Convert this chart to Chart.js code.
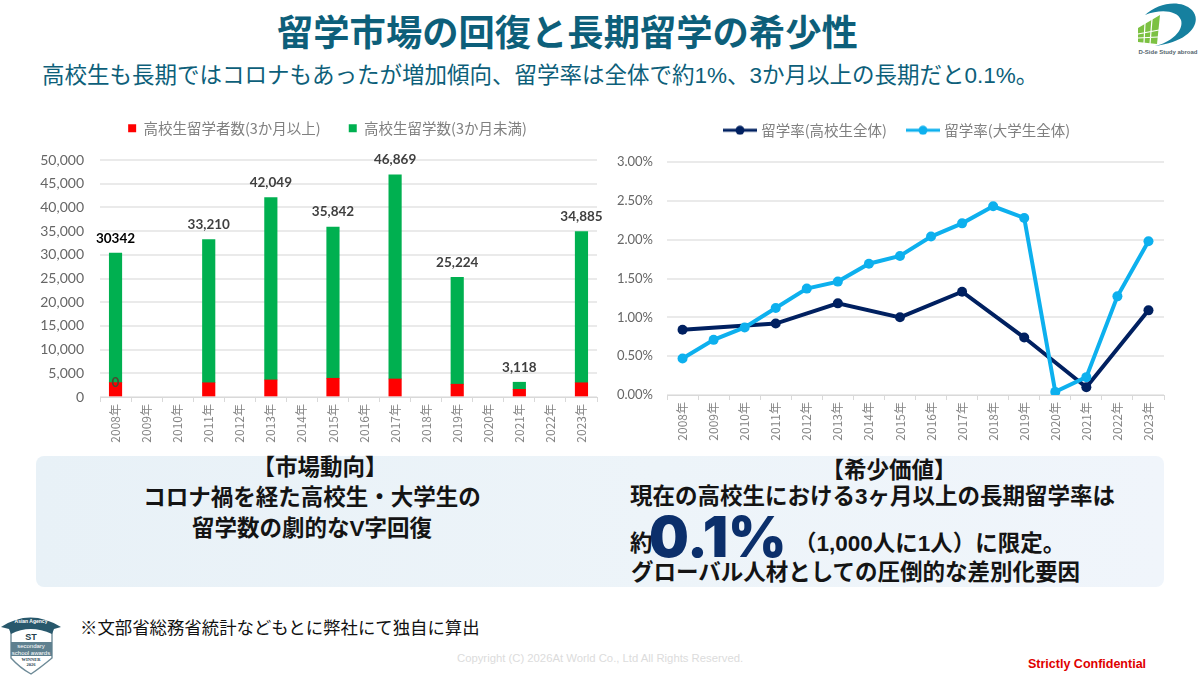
<!DOCTYPE html>
<html lang="ja">

<head>
    <meta charset="UTF-8">
    <title>留学市場の回復と長期留学の希少性</title>
    <script src="https://cdn.jsdelivr.net/npm/chart.js"></script>
    <style>
        html, body { margin: 0; padding: 0; background: #fff; }
        #slide { position: relative; width: 1200px; height: 675px; overflow: hidden; font-family: "Liberation Sans", "Noto Sans CJK JP", sans-serif; }
        #slide > * { position: absolute; white-space: nowrap; }
        #title { left: 277px; top: 7px; font-size: 36.3px; line-height: 46px; font-weight: 700; color: #0d5f7a; font-family: "Noto Sans CJK JP", sans-serif; }
        #subtitle { left: 42px; top: 60px; font-size: 22.5px; line-height: 32px; color: #0d5f7a; }
        #panel { left: 36px; top: 456px; width: 1128px; height: 131px; border-radius: 8px; background: linear-gradient(90deg, #e8f1f7, #edf4f9 55%, #f0f5fb); }
        .note { font-weight: 700; font-size: 22.5px; line-height: 30px; color: #141414; }
        .center { transform: translateX(-50%); }
        #big { font-family: "Inter", "Liberation Sans", sans-serif; font-weight: 900; font-size: 56px; line-height: 60px; color: #0b2f6b; }
        #source { left: 80px; top: 615px; font-size: 17.4px; line-height: 26px; color: #111; }
        #copyright { left: 457px; top: 652px; font: 11.3px "Liberation Sans", sans-serif; color: #dcdcdc; }
        #confidential { left: 1028px; top: 657px; font: bold 12.5px "Liberation Sans", sans-serif; color: #e00000; }
    </style>
</head>

<body>
    <div id="slide">
        <div id="panel"></div>
        <div id="title">留学市場の回復と長期留学の希少性</div>
        <div id="subtitle">高校生も長期ではコロナもあったが増加傾向、留学率は全体で約1%、3か月以上の長期だと0.1%。</div>

        <!-- Charts -->
        <canvas id="countChart" style="left:30px;top:93px"></canvas>
        <canvas id="rateChart" style="left:610px;top:101px"></canvas>

        <!-- Notes under the charts -->
        <div class="note center" style="left:320px;top:453px">【市場動向】</div>
        <div class="note center" style="left:312px;top:483px">コロナ禍を経た高校生・大学生の</div>
        <div class="note center" style="left:312px;top:514px">留学数の劇的なV字回復</div>
        <div class="note center" style="left:889px;top:456px">【希少価値】</div>
        <div class="note" style="left:630px;top:482px">現在の高校生における3ヶ月以上の長期留学率は</div>
        <div class="note" style="left:630px;top:529px">約</div>
        <div id="big" style="left:649px;top:507px">0.1%</div>
        <div class="note" style="left:794px;top:529px">（1,000人に1人）に限定。</div>
        <div class="note" style="left:631px;top:558px">グローバル人材としての圧倒的な差別化要因</div>

        <div id="source">※文部省総務省統計などもとに弊社にて独自に算出</div>
        <div id="copyright">Copyright (C) 2026At World Co., Ltd All Rights Reserved.</div>
        <div id="confidential">Strictly Confidential</div>

        <!-- Company logo -->
        <svg style="left:1130px;top:0" width="70" height="60" viewBox="1130 0 70 60">
            <path d="M1145 15 C1158 3 1180 -1 1192 10 C1203 22 1190 42 1155 46 C1172 42 1184 30 1181 20 C1177 10 1160 9 1145 15Z" fill="#16809f"/>
            <path d="M1138 28 L1160 15 L1157 44 L1138 42Z" fill="#7cc142"/>
            <path d="M1145 23 L1144 43 M1152 19 L1150 44 M1138 34 L1159 30 M1138 38 L1158 37" stroke="#fff" stroke-width="1.2" fill="none"/>
            <text x="1168" y="54" text-anchor="middle" font-family="Liberation Sans" font-weight="700" font-size="6" fill="#55666d">D-Side Study abroad</text>
        </svg>

        <!-- Award badge -->
        <svg style="left:0;top:612px" width="64" height="63" viewBox="0 612 64 63">
            <path d="M11 628 L52 628 L52 658 Q40 668 31 674 Q20 668 11 658Z" fill="#fff" stroke="#6d8a97" stroke-width="1.4"/>
            <path d="M1 627 Q30 608 61 627 L54 629 L52 634 Q30 624 11 634 L9 629Z" fill="#28586c"/>
            <text x="31" y="623" text-anchor="middle" font-family="Liberation Sans" font-weight="700" font-size="5" fill="#fff">Asian Agency</text>
            <text x="31" y="640" text-anchor="middle" font-family="Liberation Sans" font-weight="700" font-size="9" fill="#24404d">ST</text>
            <rect x="11" y="642" width="41" height="14" fill="#5f808f"/>
            <text x="31" y="648" text-anchor="middle" font-family="Liberation Sans" font-size="6" fill="#fff">secondary</text>
            <text x="31" y="654.5" text-anchor="middle" font-family="Liberation Sans" font-size="6" fill="#fff">school awards</text>
            <text x="31" y="661" text-anchor="middle" font-family="Liberation Serif" font-weight="700" font-size="4.5" fill="#24404d">WINNER</text>
            <text x="31" y="666" text-anchor="middle" font-family="Liberation Serif" font-weight="700" font-size="4.5" fill="#24404d">2026</text>
        </svg>
    </div>

    <script>
        const years = ['2008年', '2009年', '2010年', '2011年', '2012年', '2013年', '2014年', '2015年',
            '2016年', '2017年', '2018年', '2019年', '2020年', '2021年', '2022年', '2023年'];

        // Students abroad per year, stacked
        const longStay = [3040, null, null, 3000, null, 3600, null, 3950, null, 3800, null, 2700, null, 1620, null, 3000];
        const shortStay = [27302, null, null, 30210, null, 38449, null, 31892, null, 43069, null, 22524, null, 1498, null, 31885];
        const totalLabels = ['30342', null, null, '33,210', null, '42,049', null, '35,842', null, '46,869', null, '25,224', null, '3,118', null, '34,885'];
        const longStayLabels = ['0', null, null, null, null, null, null, null, null, null, null, null, null, null, null, null];

        // Study abroad rate in percent
        const highSchoolRate = [0.84, null, null, 0.92, null, 1.18, null, 1.00, null, 1.33, null, 0.74, null, 0.10, null, 1.09];
        const universityRate = [0.47, 0.71, 0.87, 1.12, 1.37, 1.46, 1.69, 1.79, 2.04, 2.21, 2.43, 2.28, 0.04, 0.23, 1.27, 1.98];

        const jpFont = '"Noto Sans CJK JP", sans-serif';
        const numFont = 'Lato, sans-serif';

        // Chart.js has no bar labels of its own, so write them from the bar elements
        const barLabels = {
            id: 'barLabels',
            afterDatasetsDraw(chart) {
                const ctx = chart.ctx;
                const red = chart.getDatasetMeta(0).data;
                const green = chart.getDatasetMeta(1).data;
                ctx.save();
                ctx.textAlign = 'center';
                ctx.textBaseline = 'middle';
                ctx.font = `bold 13.5px ${numFont}`;
                totalLabels.forEach((text, i) => {
                    if (!text) return;
                    ctx.fillStyle = i === 0 ? '#000' : '#404040';
                    ctx.fillText(text, green[i].x, green[i].y - 15);
                });
                ctx.fillStyle = '#4a4a30';
                longStayLabels.forEach((text, i) => {
                    if (text) ctx.fillText(text, red[i].x, red[i].y);
                });
                ctx.restore();
            }
        };

        // Keep the legend band at a set height so the plot top stays put,
        // and nudge the legend sideways since it centres over the plot's canvas span
        function legendBand(height, shiftX) {
            return {
                id: 'legendBand',
                beforeInit(chart) {
                    const legend = chart.legend;
                    const fit = legend.fit;
                    const draw = legend.draw;
                    legend.fit = function () {
                        fit.call(this);
                        this.height = height;
                    };
                    legend.draw = function () {
                        this.ctx.save();
                        this.ctx.translate(shiftX, 0);
                        draw.call(this);
                        this.ctx.restore();
                    };
                }
            };
        }

        function xAxis(axisHeight) {
            return {
                offset: true,
                grid: { drawOnChartArea: false, color: '#d9d9d9', tickLength: 5, offset: true },
                border: { color: '#d9d9d9' },
                ticks: { minRotation: 90, maxRotation: 90, autoSkip: false, color: '#858585', padding: 2, font: { family: jpFont, size: 12 } },
                afterFit(scale) { scale.height = axisHeight; }
            };
        }

        function lineMarker(color) {
            const c = document.createElement('canvas');
            c.width = 34;
            c.height = 10;
            const g = c.getContext('2d');
            g.fillStyle = color;
            g.fillRect(0, 3.5, 34, 3);
            g.beginPath();
            g.arc(17, 5, 4.5, 0, Math.PI * 2);
            g.fill();
            return c;
        }

        function setSize(id, w, h) {
            const el = document.getElementById(id);
            el.style.width = w + 'px';
            el.style.height = h + 'px';
            el.width = w;
            el.height = h;
            return el;
        }

        const commonOptions = {
            responsive: false,
            animation: false,
            devicePixelRatio: 1
        };

        // Left chart: stacked bars
        new Chart(setSize('countChart', 580, 357), {
            type: 'bar',
            data: {
                labels: years,
                datasets: [
                    { label: '高校生留学者数(3か月以上)', data: longStay, backgroundColor: '#ff0000', barThickness: 12.5 },
                    { label: '高校生留学数(3か月未満)', data: shortStay, backgroundColor: '#00b050', barThickness: 12.5 }
                ]
            },
            options: {
                ...commonOptions,
                layout: { padding: { right: 13 } },
                plugins: {
                    legend: {
                        position: 'top',
                        labels: { boxWidth: 8, boxHeight: 8, padding: 28, color: '#808080', font: { family: jpFont, size: 14.5 } }
                    },
                    tooltip: { enabled: false }
                },
                scales: {
                    x: { ...xAxis(53), stacked: true },
                    y: {
                        stacked: true,
                        min: 0,
                        max: 50000,
                        border: { display: false },
                        grid: { color: '#eaeaea', lineWidth: 2, drawTicks: false },
                        ticks: { stepSize: 5000, padding: 16, color: '#666', font: { family: numFont, size: 14 }, callback: v => v.toLocaleString('en-US') },
                        afterFit(scale) { scale.width = 70; }
                    }
                }
            },
            plugins: [barLabels, legendBand(67, 14)]
        });

        // Right chart: rate lines, university line on top
        new Chart(setSize('rateChart', 574, 349), {
            type: 'line',
            data: {
                labels: years,
                datasets: [
                    { label: '留学率(高校生全体)', data: highSchoolRate, borderColor: '#002060', backgroundColor: '#002060', order: 2 },
                    { label: '留学率(大学生全体)', data: universityRate, borderColor: '#0db0ee', backgroundColor: '#0db0ee', order: 1 }
                ]
            },
            options: {
                ...commonOptions,
                spanGaps: true,
                elements: {
                    line: { borderWidth: 4, tension: 0, borderCapStyle: 'round' },
                    point: { radius: 5, borderWidth: 0 }
                },
                layout: { padding: { right: 20 } },
                plugins: {
                    legend: {
                        position: 'top',
                        labels: {
                            usePointStyle: true,
                            pointStyleWidth: 28,
                            padding: 22,
                            color: '#808080',
                            font: { family: jpFont, size: 14.5 },
                            generateLabels: chart => chart.data.datasets.map((d, i) => ({
                                text: d.label,
                                datasetIndex: i,
                                fontColor: '#808080',
                                pointStyle: lineMarker(d.borderColor)
                            }))
                        }
                    },
                    tooltip: { enabled: false }
                },
                scales: {
                    x: xAxis(55),
                    y: {
                        min: 0,
                        max: 3,
                        border: { display: false },
                        grid: { color: '#eaeaea', lineWidth: 2, drawTicks: false },
                        ticks: { stepSize: 0.5, padding: 14, color: '#666', font: { family: numFont, size: 13 }, callback: v => v.toFixed(2) + '%' },
                        afterFit(scale) { scale.width = 57; }
                    }
                }
            },
            plugins: [legendBand(61, 11)]
        });
    </script>
</body>

</html>
